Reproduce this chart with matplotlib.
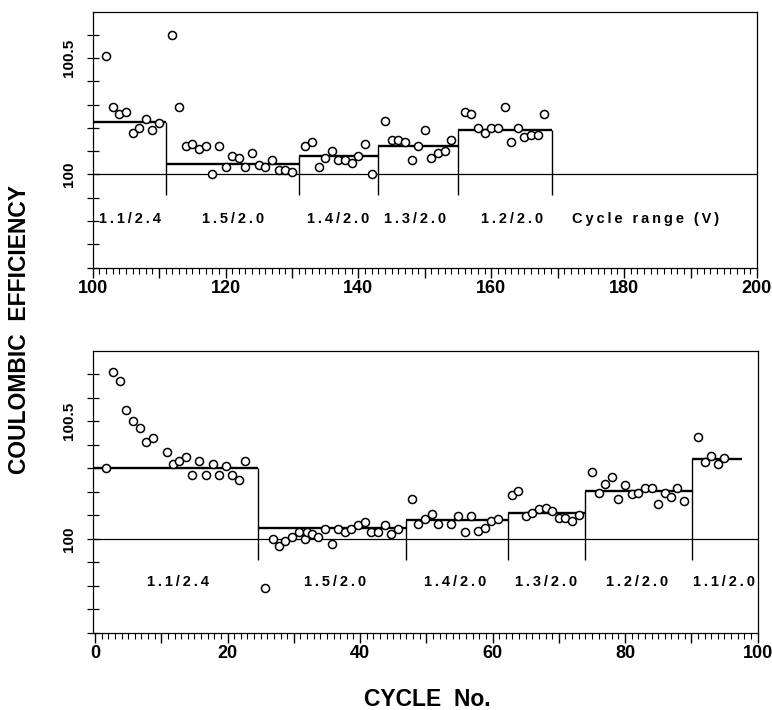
import matplotlib
matplotlib.use("Agg")
import matplotlib.pyplot as plt
from matplotlib.ticker import MultipleLocator, FuncFormatter

plt.rcParams['font.family'] = ['Liberation Sans', 'DejaVu Sans']
plt.rcParams['font.weight'] = 'bold'

# ---- upper panel: cycles 100-200 ----
top_cycle = [102, 103, 104, 105, 106, 107, 108, 109, 110,
             112, 113, 114, 115, 116, 117, 118, 119, 120, 121, 122, 123, 124, 125, 126, 127, 128, 129, 130,
             132, 133, 134, 135, 136, 137, 138, 139, 140, 141, 142,
             144, 145, 146, 147, 148, 149, 150, 151, 152, 153, 154,
             156, 157, 158, 159, 160, 161, 162, 163, 164, 165, 166, 167, 168]
top_ce = [100.51, 100.29, 100.26, 100.27, 100.18, 100.20, 100.24, 100.19, 100.22,
          100.60, 100.29, 100.12, 100.13, 100.11, 100.12, 100.00, 100.12, 100.03, 100.08, 100.07,
          100.03, 100.09, 100.04, 100.03, 100.06, 100.02, 100.02, 100.01,
          100.12, 100.14, 100.03, 100.07, 100.10, 100.06, 100.06, 100.05, 100.08, 100.13, 100.00,
          100.23, 100.15, 100.15, 100.14, 100.06, 100.12, 100.19, 100.07, 100.09, 100.10, 100.15,
          100.27, 100.26, 100.20, 100.18, 100.20, 100.20, 100.29, 100.14, 100.20, 100.16, 100.17,
          100.17, 100.26]
top_edges = [100, 111, 131, 143, 155, 169.2]
top_levels = [100.224, 100.044, 100.078, 100.124, 100.192]
top_drops = [111, 131, 143, 155, 169.2]
top_ranges = ['1.1/2.4', '1.5/2.0', '1.4/2.0', '1.3/2.0', '1.2/2.0', 'Cycle range (V)']
top_range_x = [105.6, 121.1, 136.9, 148.6, 163.2, 183.3]

# ---- lower panel: cycles 0-100 ----
bot_cycle = [1.7, 2.7, 3.7, 4.7, 5.8, 6.8, 7.7, 8.7, 10.8, 11.7, 12.7, 13.7, 14.7, 15.7,
             16.7, 17.8, 18.7, 19.7, 20.7, 21.7, 22.7,
             25.7, 26.8, 27.7, 28.7, 29.7, 30.8, 31.7, 32.0, 32.8, 33.7, 34.7, 35.7, 36.7,
             37.7, 38.7, 39.7, 40.7, 41.7, 42.7, 43.7, 44.7, 45.7,
             47.8, 48.8, 49.8, 50.8, 51.8, 53.8, 54.8, 55.8, 56.8, 57.8, 58.8, 59.8, 60.9,
             62.9, 63.9, 65.0, 66.0, 67.0, 68.0, 69.0, 70.0, 71.0, 72.0, 73.0,
             75.0, 76.0, 77.0, 78.0, 79.0, 80.0, 81.0, 82.0, 83.0, 84.0, 85.0, 86.0, 87.0, 87.9, 88.9,
             91.0, 92.0, 93.0, 94.0, 95.0]
bot_ce = [100.30, 100.71, 100.67, 100.55, 100.50, 100.47, 100.41, 100.43, 100.37, 100.32,
          100.33, 100.35, 100.27, 100.33, 100.27, 100.32, 100.27, 100.31, 100.27, 100.25, 100.33,
          99.79, 100.00, 99.97, 99.99, 100.01, 100.03, 100.00, 100.03, 100.02, 100.01, 100.04,
          99.98, 100.04, 100.03, 100.04, 100.06, 100.07, 100.03, 100.03, 100.06, 100.02, 100.04,
          100.17, 100.065, 100.085, 100.107, 100.064, 100.065, 100.097, 100.028, 100.097, 100.035,
          100.047, 100.075, 100.085,
          100.186, 100.203, 100.097, 100.111, 100.128, 100.13, 100.12, 100.087, 100.087, 100.075, 100.10,
          100.286, 100.197, 100.235, 100.261, 100.171, 100.228, 100.189, 100.197, 100.218, 100.218,
          100.15, 100.197, 100.179, 100.218, 100.161,
          100.432, 100.329, 100.353, 100.318, 100.342]
bot_edges = [-0.35, 24.6, 46.9, 62.3, 74.0, 90.1, 97.6]
bot_levels = [100.303, 100.047, 100.082, 100.111, 100.203, 100.339]
bot_drops = [24.6, 46.9, 62.3, 74.0, 90.1]
bot_ranges = ['1.1/2.4', '1.5/2.0', '1.4/2.0', '1.3/2.0', '1.2/2.0', '1.1/2.0']
bot_range_x = [12.5, 36.2, 54.3, 68.1, 81.8, 95.0]


def spaced(s):
    # typewriter-like letter spacing of the original (thin spaces between letters)
    words = s.split(' ')
    return '\u2009 \u2009'.join('\u2009'.join(w) for w in words)


def draw_panel(ax, cyc, ce, edges, levels, drops, ranges, rx, ry, xlim, ylim, xticks):
    ax.axhline(100, color='k', lw=0.9, zorder=1)
    for i, lev in enumerate(levels):
        ax.hlines(lev, edges[i], edges[i + 1], color='k', lw=1.7, zorder=2)
    for d in drops:
        near = [levels[i] for i in range(len(levels)) if abs(edges[i] - d) < 0.01 or abs(edges[i + 1] - d) < 0.01]
        ax.vlines(d, 99.91, max(near), color='k', lw=1.0, zorder=2)
    ax.plot(cyc, ce, 'o', ms=5.8, mfc='white', mec='k', mew=1.1, zorder=3, clip_on=False)
    for t, x in zip(ranges, rx):
        ax.text(x, ry, spaced(t), ha='center', va='center', fontsize=10.5, fontweight='bold')

    ax.set_xlim(*xlim)
    ax.set_ylim(*ylim)
    ax.xaxis.set_major_locator(MultipleLocator(10))
    ax.xaxis.set_minor_locator(MultipleLocator(1))
    ax.xaxis.set_major_formatter(FuncFormatter(lambda v, p: '%d' % v if round(v) % 20 == 0 else ''))
    ax.set_xticks(xticks)
    ax.tick_params(axis='x', which='major', direction='out', length=7, width=1.0,
                   labelsize=13, pad=2)
    ax.tick_params(axis='x', which='minor', direction='out', length=4, width=0.8)
    yt = [round(99.6 + 0.1 * k, 1) for k in range(int(round((ylim[1] - 99.6) / 0.1)))]
    ax.set_yticks(yt)
    ax.set_yticklabels(['100' if v == 100.0 else ('100.5' if v == 100.5 else '') for v in yt],
                       rotation=90, va='center')
    ax.tick_params(axis='y', direction='inout', length=8, width=0.9, labelsize=11, pad=8)
    for s in ax.spines.values():
        s.set_linewidth(0.9)
    for lab in ax.get_xticklabels() + ax.get_yticklabels():
        lab.set_fontweight('bold')


fig = plt.figure(figsize=(7.72, 7.10), dpi=100)
ax1 = fig.add_axes([92.7 / 772, 1 - 267.5 / 710, (757 - 92.7) / 772, (267.5 - 11.5) / 710])
ax2 = fig.add_axes([92.7 / 772, 1 - 633 / 710, (757.5 - 92.7) / 772, (633 - 350.7) / 710])

draw_panel(ax1, top_cycle, top_ce, top_edges, top_levels, top_drops, top_ranges, top_range_x,
           99.808, (100, 200), (99.6, 100.7), list(range(100, 201, 10)))
draw_panel(ax2, bot_cycle, bot_ce, bot_edges, bot_levels, bot_drops, bot_ranges, bot_range_x,
           99.815, (-0.35, 100), (99.6, 100.8), list(range(0, 101, 10)))

fig.text(20 / 772, 1 - 329 / 710, 'COULOMBIC  EFFICIENCY', rotation=90, ha='center', va='center',
         fontsize=16.5, fontweight='bold')
fig.text(427 / 772, 1 - 700 / 710, 'CYCLE  No.', ha='center', va='center',
         fontsize=16.5, fontweight='bold')

fig.savefig('out.png', dpi=100)
